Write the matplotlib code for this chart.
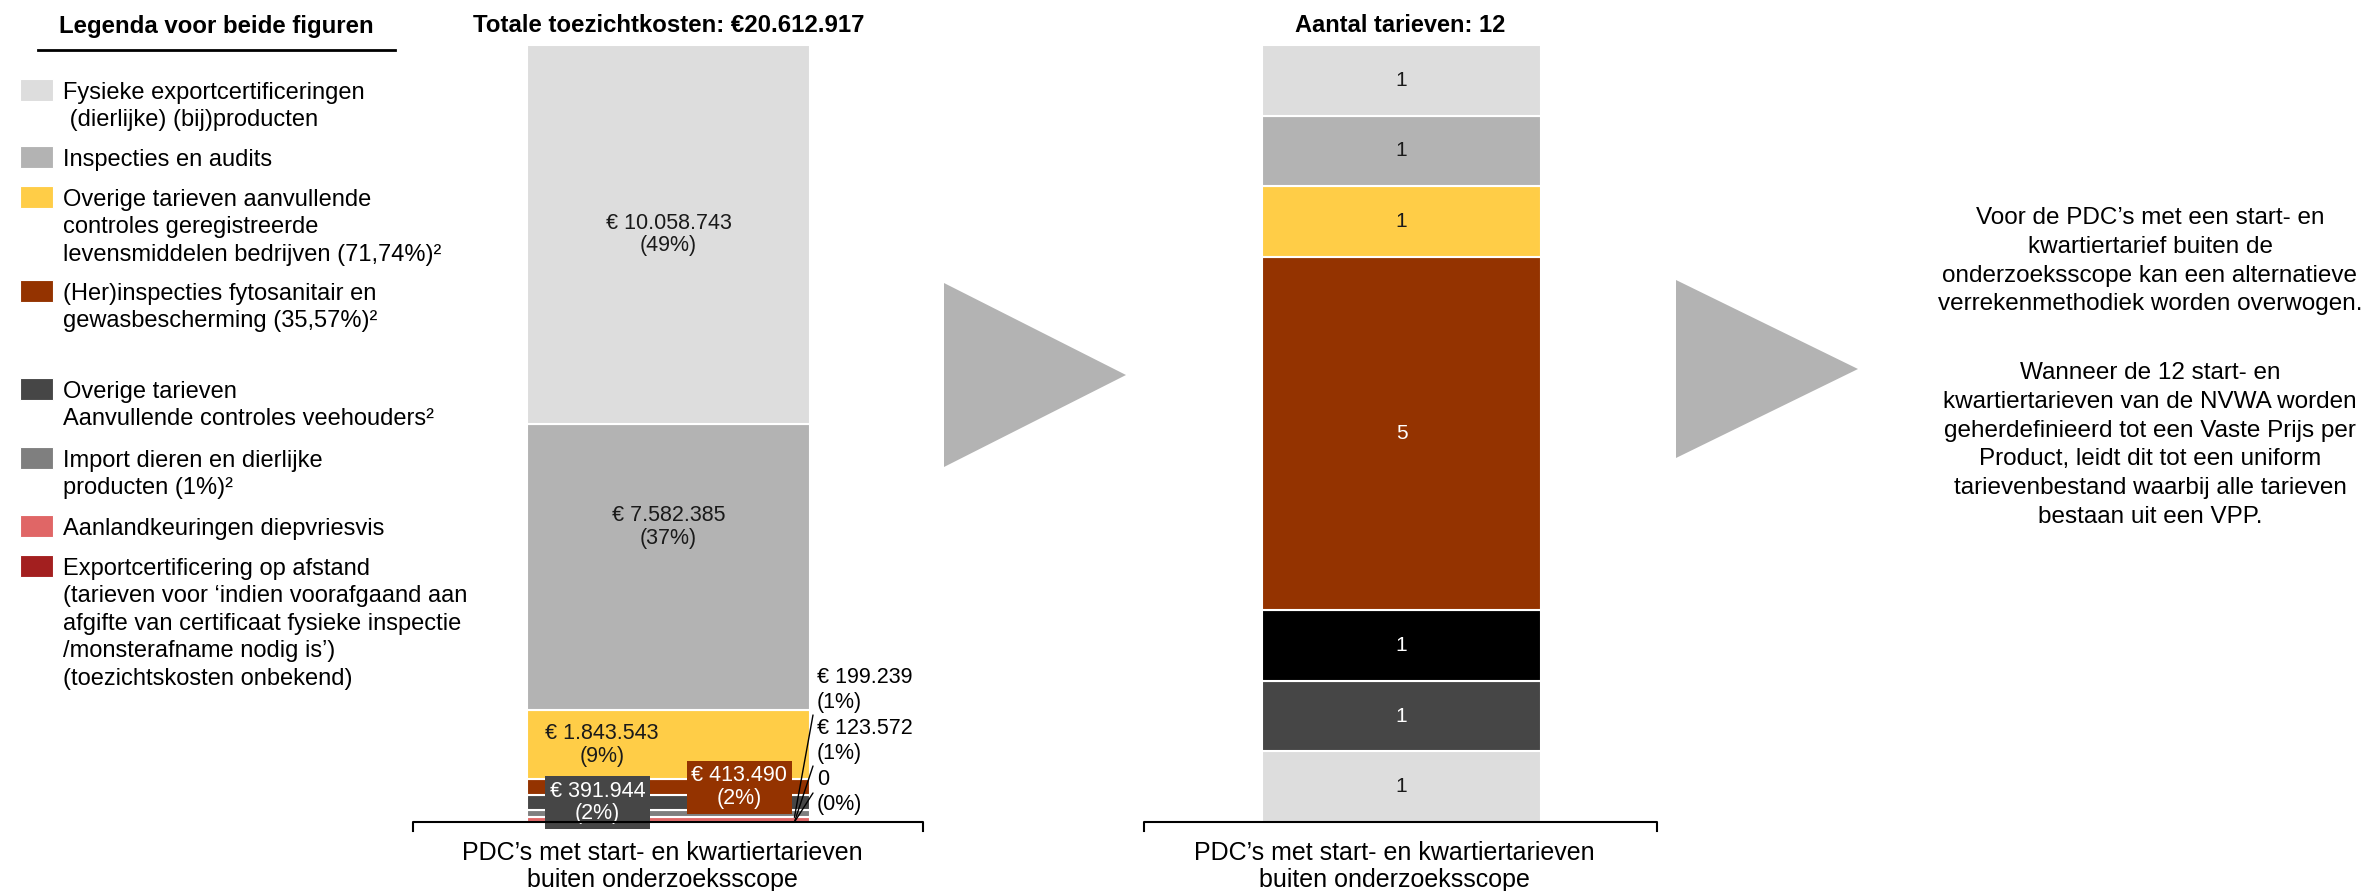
import matplotlib
matplotlib.use('Agg')
import matplotlib.pyplot as plt
from matplotlib.patches import Polygon, Rectangle
from matplotlib.lines import Line2D

W, H = 2361, 891
DPI = 100

plt.rcParams['font.family'] = ['Liberation Sans', 'DejaVu Sans']

# ---------------- data ----------------
legend_title = "Legenda voor beide figuren"
legend_labels = [
    "Fysieke exportcertificeringen\n (dierlijke) (bij)producten",
    "Inspecties en audits",
    "Overige tarieven aanvullende\ncontroles geregistreerde\nlevensmiddelen bedrijven (71,74%)²",
    "(Her)inspecties fytosanitair en\ngewasbescherming (35,57%)²",
    "Overige tarieven\nAanvullende controles veehouders²",
    "Import dieren en dierlijke\nproducten (1%)²",
    "Aanlandkeuringen diepvriesvis",
    "Exportcertificering op afstand\n(tarieven voor ‘indien voorafgaand aan\nafgifte van certificaat fysieke inspectie\n/monsterafname nodig is’)\n(toezichtskosten onbekend)",
]
legend_colors = ["#DDDDDD", "#B3B3B3", "#FFCD47", "#943300",
                 "#464646", "#7F7F7F", "#E06666", "#A31F1F"]

cost_title = "Totale toezichtkosten: €20.612.917"
cost_values = [10058743, 7582385, 1843543, 413490, 391944, 199239, 123572, 0]  # top -> bottom
cost_text = ["€ 10.058.743\n(49%)", "€ 7.582.385\n(37%)", "€ 1.843.543\n(9%)",
             "€ 413.490\n(2%)", "€ 391.944\n(2%)", "€ 199.239\n(1%)",
             "€ 123.572\n(1%)", "0\n(0%)"]

count_title = "Aantal tarieven: 12"
count_values = [1, 1, 1, 5, 1, 1, 1]  # top -> bottom
count_colors = ["#DDDDDD", "#B3B3B3", "#FFCD47", "#943300", "#000000", "#464646", "#DDDDDD"]
count_text_colors = ["#1a1a1a", "#1a1a1a", "#1a1a1a", "white", "white", "white", "#1a1a1a"]

category_label = "PDC’s met start- en kwartiertarieven\nbuiten onderzoeksscope"

conclusion_1 = ("Voor de PDC’s met een start- en\nkwartiertarief buiten de\n"
                "onderzoeksscope kan een alternatieve\nverrekenmethodiek worden overwogen.")
conclusion_2 = ("Wanneer de 12 start- en\nkwartiertarieven van de NVWA worden\n"
                "geherdefinieerd tot een Vaste Prijs per\nProduct, leidt dit tot een uniform\n"
                "tarievenbestand waarbij alle tarieven\nbestaan uit een VPP.")

# ---------------- helpers ----------------
fig = plt.figure(figsize=(W / DPI, H / DPI), dpi=DPI)


def P(x, y):
    return (x / W, 1 - y / H)


def ftext(x, y, s, **kw):
    fx, fy = P(x, y)
    return fig.text(fx, fy, s, **kw)

LFS = 17
# ---------------- legend ----------------
ftext(216, 26, legend_title, ha='center', va='center', fontsize=17.3, fontweight='bold')
fig.add_artist(Line2D([38 / W, 395 / W], [1 - 50 / H] * 2, color='black', lw=2))
leg_y = [90, 157, 197, 291, 389, 458, 526, 566]
for yy, lab, col in zip(leg_y, legend_labels, legend_colors):
    fx, fy = P(20, yy + 11)
    fig.add_artist(Rectangle((fx, fy), 33 / W, 22 / H, transform=fig.transFigure,
                             facecolor=col, edgecolor='white', lw=0.8))
    ftext(63, yy - 8, lab, ha='left', va='top', fontsize=LFS, linespacing=1.32)

# ---------------- bar 1 (costs) ----------------
total = sum(cost_values)
ax1 = fig.add_axes([527 / W, 1 - 822 / H, 283 / W, 777 / H])
ax1.set_xlim(-0.5, 0.5)
ax1.set_ylim(0, total)
ax1.axis('off')
bottoms = {}
b = 0
for i in range(len(cost_values) - 1, -1, -1):
    v = cost_values[i]
    bottoms[i] = b
    if v > 0:
        ax1.bar(0, v, width=1, bottom=b, color=legend_colors[i], edgecolor='white', lw=1.5)
    b += v

BFS = 15.5
ax1.text(0, bottoms[0] + cost_values[0] * 0.5, cost_text[0], ha='center', va='center',
         fontsize=BFS, color='#1a1a1a', linespacing=1.1)
ax1.text(0, bottoms[1] + cost_values[1] * 0.64, cost_text[1], ha='center', va='center',
         fontsize=BFS, color='#1a1a1a', linespacing=1.1)
ax1.text(-0.235, bottoms[2] + cost_values[2] * 0.5, cost_text[2], ha='center', va='center',
         fontsize=BFS, color='#1a1a1a', linespacing=1.1)
ax1.text(0.25, bottoms[3] + cost_values[3] * 0.5, cost_text[3], ha='center',
         va='center', fontsize=BFS, color='white', linespacing=1.1,
         bbox=dict(boxstyle='square,pad=0.22', facecolor=legend_colors[3], edgecolor='none'))
ax1.text(-0.25, bottoms[4] + cost_values[4] * 0.5, cost_text[4], ha='center',
         va='center', fontsize=BFS, color='white', linespacing=1.1,
         bbox=dict(boxstyle='square,pad=0.22', facecolor=legend_colors[4], edgecolor='none'))

# outside labels with leader lines
out_pos = [(5, 690, 715), (6, 741, 766), (7, 792, 793)]
for idx, ty, ly in out_pos:
    ftext(817, ty, cost_text[idx], ha='left', va='center', fontsize=BFS, linespacing=1.2)
    ax1.annotate('', xy=(0.445, bottoms[idx]), xycoords='data',
                 xytext=P(813, ly), textcoords='figure fraction',
                 arrowprops=dict(arrowstyle='-', color='black', lw=1, shrinkA=0, shrinkB=0))

ftext(669, 26, cost_title, ha='center', va='center', fontsize=17.3, fontweight='bold')

# ---------------- bar 2 (counts) ----------------
ax2 = fig.add_axes([1262 / W, 1 - 822 / H, 279 / W, 777 / H])
ax2.set_xlim(-0.5, 0.5)
ax2.set_ylim(0, sum(count_values))
ax2.axis('off')
b = 0
for i in range(len(count_values) - 1, -1, -1):
    v = count_values[i]
    ax2.bar(0, v, width=1, bottom=b, color=count_colors[i], edgecolor='white', lw=1.5)
    ax2.text(0, b + v / 2, str(v), ha='center', va='center', fontsize=15,
             color=count_text_colors[i])
    b += v
ftext(1400, 26, count_title, ha='center', va='center', fontsize=17, fontweight='bold')

# ---------------- brackets & category labels ----------------
for x0, x1 in [(413, 923), (1144, 1657)]:
    xs = [x0 / W, x0 / W, x1 / W, x1 / W]
    ys = [1 - 831 / H, 1 - 822 / H, 1 - 822 / H, 1 - 831 / H]
    fig.add_artist(Line2D(xs, ys, color='black', lw=1.5))
    ftext((x0 + x1) / 2 - 6, 863, category_label, ha='center', va='center_baseline',
          fontsize=18, linespacing=1.13)

# ---------------- arrows ----------------
for pts in [[(944, 283), (944, 467), (1126, 375)], [(1676, 280), (1676, 458), (1858, 369)]]:
    fig.add_artist(Polygon([P(x, y) for x, y in pts], closed=True, transform=fig.transFigure,
                           facecolor='#B3B3B3', edgecolor='none'))

# ---------------- conclusion text ----------------
ftext(2150, 207, conclusion_1, ha='center', va='top', fontsize=17.5, linespacing=1.4)
ftext(2150, 362, conclusion_2, ha='center', va='top', fontsize=17.5, linespacing=1.4)

fig.savefig('out.png', dpi=DPI)
